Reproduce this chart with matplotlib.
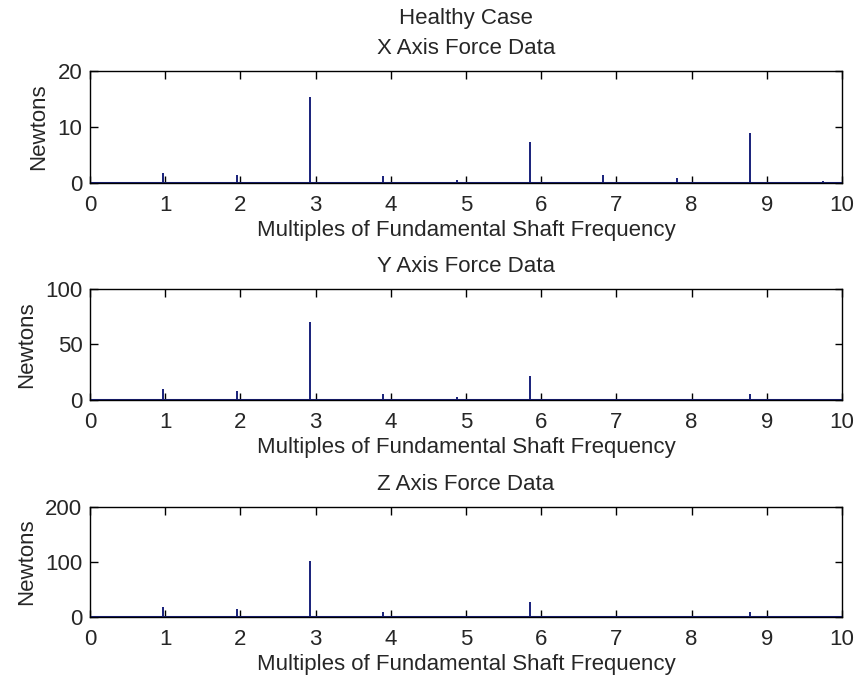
import matplotlib
matplotlib.use("Agg")
import matplotlib.pyplot as plt

plt.rcParams["font.family"] = ["Liberation Sans", "DejaVu Sans"]

# harmonic peaks (multiples of shaft frequency) and their amplitudes in Newtons
peak_freq = [0.975, 1.95, 2.925, 3.9, 4.875, 5.85, 6.825, 7.8, 8.775, 9.75]
force_x = [1.7, 1.4, 15.4, 1.2, 0.5, 7.4, 1.5, 0.9, 9.0, 0.3]
force_y = [9.9, 8.1, 70.5, 5.1, 3.0, 21.9, 0.6, 0.5, 5.1, 0.5]
force_z = [18.7, 14.5, 102.0, 8.5, 2.0, 28.0, 1.0, 1.0, 8.5, 2.0]

freq_span = [0, 10]
baseline = [0, 0]

titles = ["Healthy Case\nX Axis Force Data", "Y Axis Force Data", "Z Axis Force Data"]
y_limits = [20, 100, 200]
y_ticks = [[0, 10, 20], [0, 50, 100], [0, 100, 200]]
x_ticks = list(range(0, 11))

LINE = "#18207a"
TEXT = "#262626"
FS = 16

fig = plt.figure(figsize=(8.56, 6.82), dpi=100)
positions = [
    [0.1051, 0.7317, 0.8785, 0.1642],
    [0.1051, 0.4135, 0.8785, 0.1628],
    [0.1051, 0.0953, 0.8785, 0.1613],
]

for pos, force, title, ymax, yt in zip(positions, [force_x, force_y, force_z],
                                       titles, y_limits, y_ticks):
    ax = fig.add_axes(pos)
    ax.plot(freq_span, baseline, color=LINE, lw=2.2, solid_capstyle="butt")
    ax.vlines(peak_freq, 0, force, color=LINE, lw=1.4)
    ax.set_xlim(0, 10)
    ax.set_ylim(0, ymax)
    ax.set_xticks(x_ticks)
    ax.set_yticks(yt)
    ax.tick_params(direction="in", length=5.4, width=1, top=True, right=True,
                   labelsize=FS, colors="black", labelcolor=TEXT)
    ax.tick_params(axis="x", pad=8.5)
    ax.tick_params(axis="y", pad=5.5)
    for sp in ax.spines.values():
        sp.set_linewidth(1)
    ax.set_xlabel("Multiples of Fundamental Shaft Frequency", fontsize=FS,
                  labelpad=3, color=TEXT)
    ax.set_ylabel("Newtons", fontsize=FS, labelpad=6, color=TEXT)
    ax.set_title(title, fontsize=FS, pad=12, linespacing=1.6, color=TEXT)

fig.savefig("out.png", dpi=100)
